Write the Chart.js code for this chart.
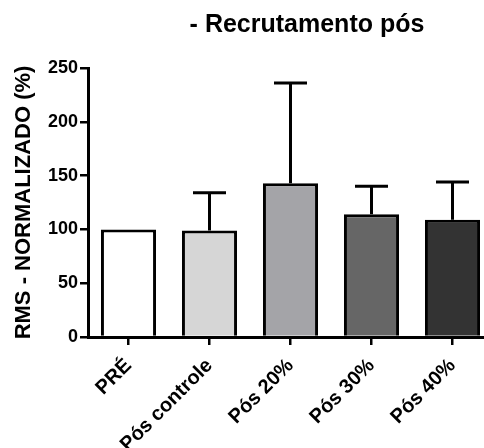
<!DOCTYPE html>
<html>
<head>
<meta charset="utf-8">
<script src="https://cdn.jsdelivr.net/npm/chart.js@4.4.1/dist/chart.umd.min.js"></script>
<style>
  html, body { margin: 0; padding: 0; background: #ffffff; overflow: hidden; }
  #wrap { width: 484px; height: 448px; overflow: hidden; position: relative; }
  canvas { display: block; }
</style>
</head>
<body>
<div id="wrap"><canvas id="c" width="500" height="448"></canvas></div>
<script>
// Groups, means and upper error (SD) of the normalized RMS
const categories = ['PRÉ', 'Pós controle', 'Pós 20%', 'Pós 30%', 'Pós 40%'];
const means = [100, 99, 143, 114, 109];
const upperErrors = [0, 35, 93, 26, 35];
const barColors = ['#ffffff', '#d6d6d6', '#a4a4a8', '#666666', '#333333'];
const yTicks = [0, 50, 100, 150, 200, 250];
const chartTitle = '- Recrutamento pós';
const yTitle = 'RMS - NORMALIZADO (%)';

const FONT = '"Liberation Sans", Arial, Helvetica, sans-serif';

// Vertical error bars with a cap, drawn above each bar
const errorBars = {
  id: 'errorBars',
  afterDatasetsDraw(chart) {
    const ctx = chart.ctx;
    const meta = chart.getDatasetMeta(0);
    const y = chart.scales.y;
    ctx.save();
    ctx.strokeStyle = '#000000';
    ctx.lineWidth = 3;
    ctx.lineCap = 'butt';
    meta.data.forEach((bar, i) => {
      const err = upperErrors[i];
      if (!err) return;
      const x = bar.x;
      const yTop = y.getPixelForValue(means[i] + err);
      const yBase = y.getPixelForValue(means[i]);
      ctx.beginPath();
      ctx.moveTo(x, yBase);
      ctx.lineTo(x, yTop);
      ctx.moveTo(x - 16.5, yTop);
      ctx.lineTo(x + 16.5, yTop);
      ctx.stroke();
    });
    ctx.restore();
  }
};

// Chart heading placed over the plotting area
const heading = {
  id: 'heading',
  afterDraw(chart) {
    const ctx = chart.ctx;
    ctx.save();
    ctx.font = 'bold 25px ' + FONT;
    ctx.fillStyle = '#000000';
    ctx.textAlign = 'center';
    ctx.textBaseline = 'alphabetic';
    ctx.fillText(chartTitle, 307, 32);
    ctx.restore();
  }
};

new Chart(document.getElementById('c'), {
  type: 'bar',
  data: {
    labels: categories,
    datasets: [{
      data: means,
      backgroundColor: barColors,
      borderColor: '#000000',
      borderWidth: 3,
      borderSkipped: 'start',
      barPercentage: 0.68,
      categoryPercentage: 1.0
    }]
  },
  options: {
    responsive: false,
    animation: false,
    devicePixelRatio: 1,
    layout: { padding: { top: 68, right: 7, left: 0, bottom: 0 } },
    plugins: {
      legend: { display: false },
      tooltip: { enabled: false },
      title: { display: false }
    },
    scales: {
      x: {
        offset: true,
        grid: {
          display: true,
          offset: false,
          drawOnChartArea: false,
          drawTicks: true,
          tickLength: 8,
          tickColor: '#000000',
          lineWidth: 2.5
        },
        border: { display: true, color: '#000000', width: 3 },
        ticks: {
          color: '#000000',
          font: { family: FONT, size: 20, weight: 'bold' },
          minRotation: 45,
          maxRotation: 45,
          padding: 9,
          autoSkip: false
        },
        afterFit(scale) { scale.height = 111; }
      },
      y: {
        min: 0,
        max: 250,
        afterBuildTicks(scale) { scale.ticks = yTicks.map(v => ({ value: v })); },
        grid: {
          display: true,
          drawOnChartArea: false,
          drawTicks: true,
          tickLength: 8,
          tickColor: '#000000',
          lineWidth: 2.5
        },
        border: { display: true, color: '#000000', width: 3 },
        ticks: {
          color: '#000000',
          font: { family: FONT, size: 18, weight: 'bold' },
          padding: 2
        },
        title: {
          display: true,
          text: yTitle,
          color: '#000000',
          font: { family: FONT, size: 22, weight: 'bold' },
          padding: { top: 11, bottom: 0 }
        },
        afterFit(scale) { scale.width = 88; }
      }
    }
  },
  plugins: [errorBars, heading]
});
</script>
</body>
</html>
